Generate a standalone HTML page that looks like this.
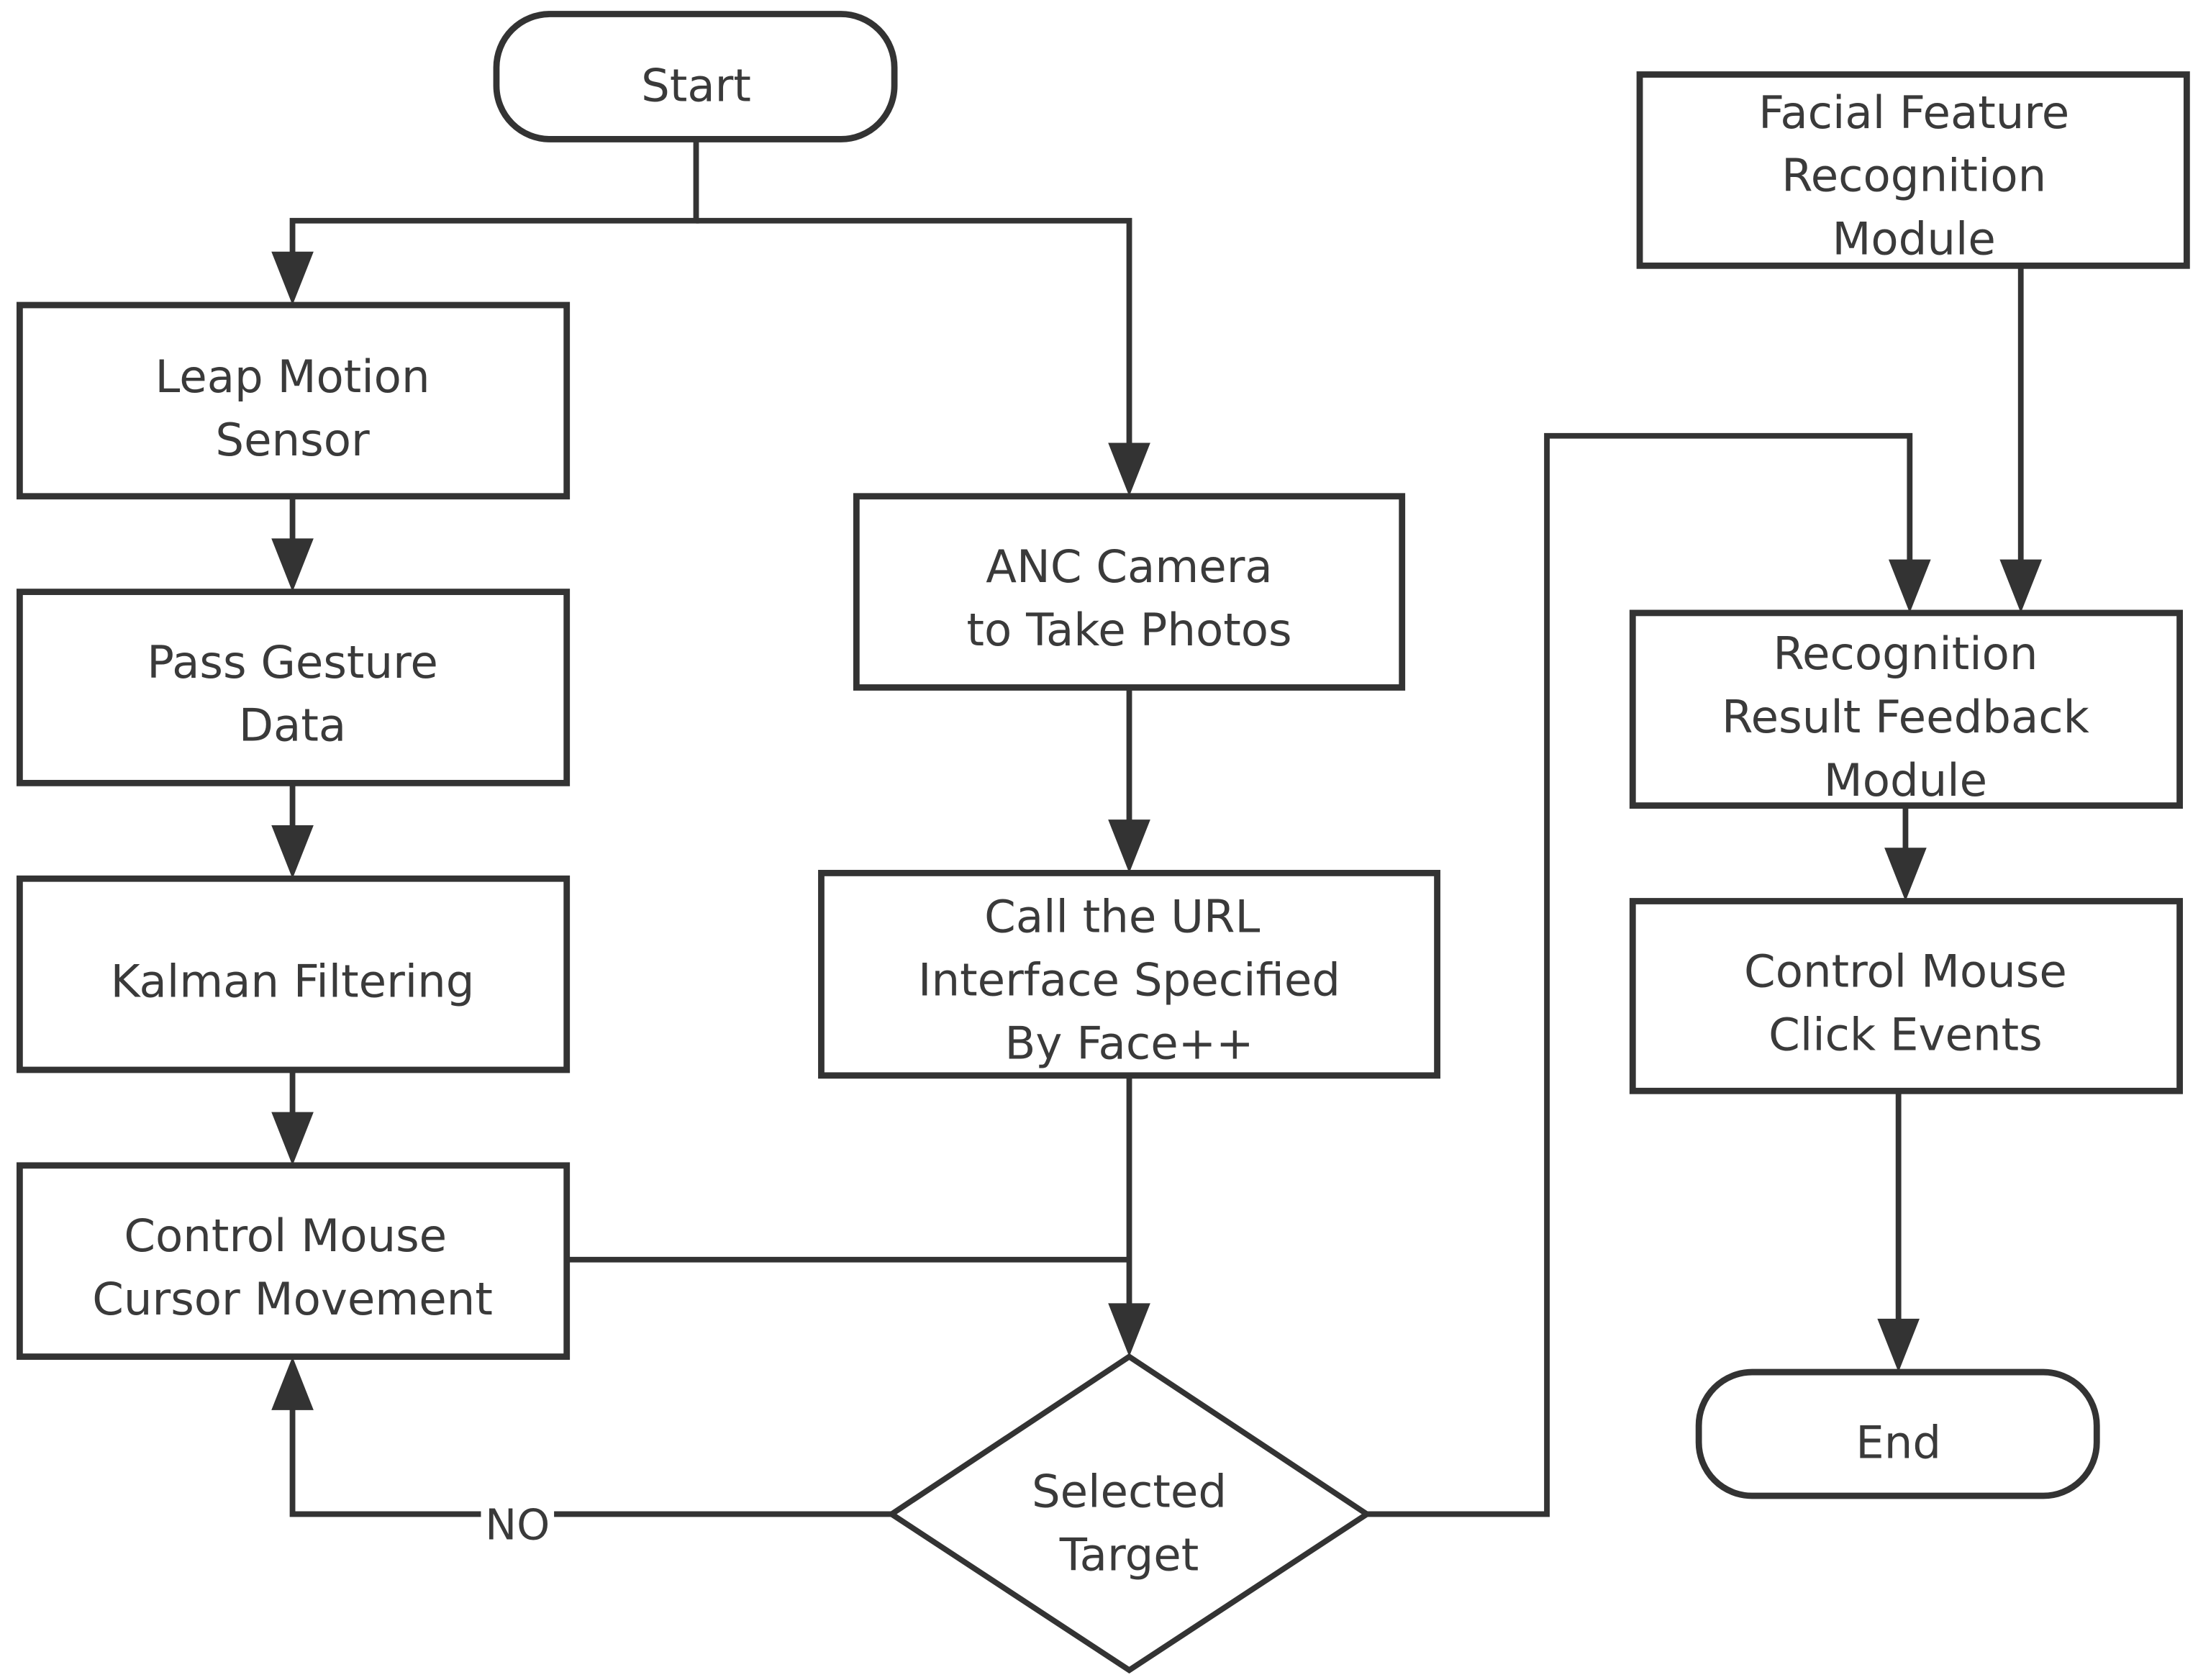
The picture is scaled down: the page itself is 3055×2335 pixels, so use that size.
<!DOCTYPE html>
<html><head><meta charset="utf-8"><style>
html,body{margin:0;padding:0;background:#fff;}
svg{display:block;}
text{font-family:"DejaVu Sans","Liberation Sans",sans-serif;font-size:32px;fill:#3a3a3a;text-anchor:middle;}
</style></head><body>
<svg width="3055" height="2335" viewBox="0 0 1563 1195" preserveAspectRatio="none" xmlns="http://www.w3.org/2000/svg">
<g fill="#fff" stroke="#333" stroke-width="4.5">
<rect x="353" y="10" width="283" height="89" rx="38"/>
<rect x="14" y="217" width="389" height="136"/>
<rect x="14" y="421" width="389" height="136"/>
<rect x="14" y="625" width="389" height="136"/>
<rect x="14" y="829" width="389" height="136"/>
<rect x="609" y="353" width="388" height="136"/>
<rect x="584" y="621" width="438" height="144"/>
<rect x="1166" y="53" width="389" height="136"/>
<rect x="1161" y="436" width="389" height="137"/>
<rect x="1161" y="641" width="389" height="135"/>
<rect x="1208" y="976" width="283" height="88" rx="38"/>
<path d="M803,965 L972,1077 L803,1188 L634,1077 Z" stroke-width="4"/>
</g>
<g fill="none" stroke="#333" stroke-width="4">
<path d="M495,99 V157 H208 V190" />
<path d="M495,157 H803 V330" />
<path d="M208,353 V400" />
<path d="M208,557 V600" />
<path d="M208,761 V805" />
<path d="M803,489 V600" />
<path d="M803,765 V940" />
<path d="M403,896 H803" />
<path d="M634,1077 H208 V990" />
<path d="M972,1077 H1100 V310 H1358 V410" />
<path d="M1437,189 V410" />
<path d="M1355,573 V615" />
<path d="M1350,776 V950" />
</g>
<g fill="#333">
<polygon points="193,179 223,179 208,217"/>
<polygon points="788,315 818,315 803,353"/>
<polygon points="193,383 223,383 208,421"/>
<polygon points="193,587 223,587 208,625"/>
<polygon points="193,791 223,791 208,829"/>
<polygon points="788,583 818,583 803,621"/>
<polygon points="788,927 818,927 803,965"/>
<polygon points="193,1003 223,1003 208,965"/>
<polygon points="1343,398 1373,398 1358,436"/>
<polygon points="1422,398 1452,398 1437,436"/>
<polygon points="1340,603 1370,603 1355,641"/>
<polygon points="1335,938 1365,938 1350,976"/>
</g>
<rect x="342" y="1064" width="52" height="30" fill="#fff"/>
<text x="368" y="1095" style="font-size:30px">NO</text>
<text x="495" y="72">Start</text>
<text x="208" y="279">Leap Motion</text>
<text x="208" y="324">Sensor</text>
<text x="208" y="482">Pass Gesture</text>
<text x="208" y="527">Data</text>
<text x="208" y="709">Kalman Filtering</text>
<text x="203" y="890">Control Mouse</text>
<text x="208" y="935">Cursor Movement</text>
<text x="803" y="414">ANC Camera</text>
<text x="803" y="459">to Take Photos</text>
<text x="798" y="663">Call the URL</text>
<text x="803" y="708">Interface Specified</text>
<text x="803" y="753">By Face++</text>
<text x="803" y="1072">Selected</text>
<text x="803" y="1117">Target</text>
<text x="1361" y="91">Facial Feature</text>
<text x="1361" y="136">Recognition</text>
<text x="1361" y="181">Module</text>
<text x="1355" y="476">Recognition</text>
<text x="1355" y="521">Result Feedback</text>
<text x="1355" y="566">Module</text>
<text x="1355" y="702">Control Mouse</text>
<text x="1355" y="747">Click Events</text>
<text x="1350" y="1037">End</text>
</svg>
</body></html>
